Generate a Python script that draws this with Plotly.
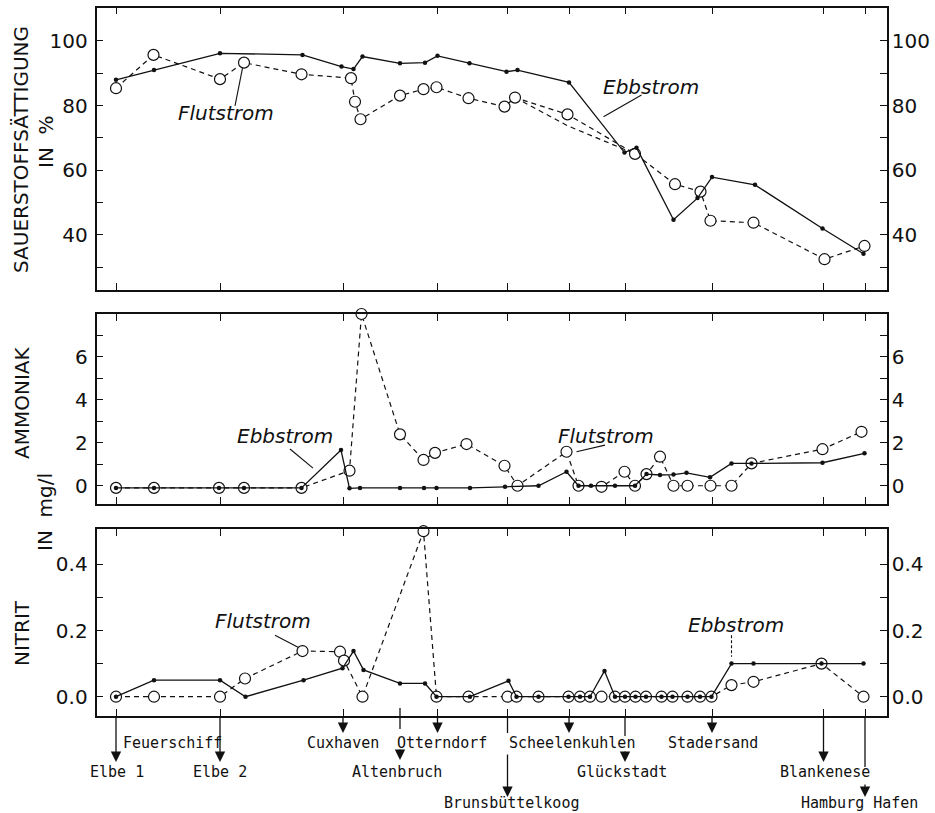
import plotly.graph_objects as go

# ---------------- data ----------------
stations = ["Elbe 1", "Elbe 2", "Cuxhaven", "Altenbruch", "Otterndorf", "Brunsbüttelkoog",
            "Scheelenkuhlen", "Glückstadt", "Stadersand", "Blankenese", "Hamburg Hafen"]
station_km = [0, 20.8, 45.4, 56.8, 64.3, 78.3, 90.6, 101.8, 119.2, 141.5, 149.8]

# Sauerstoffsättigung (%)
o2_ebb_x = [0, 7.6, 20.8, 37.3, 45.1, 47.5, 49.3, 56.8, 61.8, 64.3, 70.7, 78.1, 80.3, 90.6,
            101.7, 104.1, 111.5, 116.3, 119.2, 127.8, 141.3, 149.5]
o2_ebb_y = [88.0, 91.0, 96.2, 95.7, 92.1, 91.3, 95.2, 93.1, 93.3, 95.4, 93.1, 90.5, 91.0, 87.2,
            65.5, 67.0, 44.7, 51.4, 57.9, 55.5, 42.0, 34.2]
o2_flut_x = [0, 7.5, 20.8, 25.6, 37.1, 47.0, 47.8, 48.9, 56.8, 61.5, 64.1, 70.5, 77.7, 79.8,
             90.3, 103.8, 111.8, 116.9, 118.9, 127.5, 141.7, 149.7]
o2_flut_y = [85.4, 95.7, 88.2, 93.3, 89.7, 88.5, 81.2, 75.8, 83.1, 85.1, 85.7, 82.3, 79.7, 82.5,
             77.3, 65.1, 55.7, 53.4, 44.4, 43.8, 32.5, 36.6]
o2_flut2_x = [79.8, 90.3, 103.8]
o2_flut2_y = [82.5, 73.8, 65.1]

# Ammoniak (mg/l)
nh3_ebb_x = [0, 7.6, 20.6, 25.6, 37.1, 45.0, 46.7, 48.8, 56.8, 61.6, 64.1, 70.8, 77.8, 84.5,
             90.1, 92.5, 95.0, 99.8, 103.8, 106.1, 108.8, 111.5, 114.1, 118.8, 123.1, 127.1,
             141.3, 149.7]
nh3_ebb_y = [-0.1, -0.1, -0.1, -0.1, -0.1, 1.66, -0.12, -0.1, -0.1, -0.1, -0.1, -0.1, -0.05, 0.0,
             0.65, 0.0, 0.0, 0.0, 0.0, 0.54, 0.5, 0.52, 0.6, 0.39, 1.04, 1.04, 1.07, 1.51]
nh3_flut_x = [0, 7.6, 20.6, 25.6, 37.1, 46.7, 49.1, 56.8, 61.5, 63.8, 70.1, 77.7, 80.3, 90.1,
              92.5, 97.1, 101.7, 103.8, 106.1, 108.8, 111.5, 114.3, 118.9, 123.1, 127.1, 141.3,
              149.1]
nh3_flut_y = [-0.1, -0.1, -0.1, -0.1, -0.1, 0.70, 7.99, 2.39, 1.2, 1.53, 1.94, 0.93, 0.0, 1.58,
              0.0, -0.05, 0.65, 0.0, 0.54, 1.35, 0.0, 0.0, 0.0, 0.0, 1.04, 1.7, 2.51]

# Nitrit (mg/l)
no2_ebb_x = [0, 7.6, 20.8, 25.9, 37.5, 45.3, 47.5, 49.5, 56.8, 61.8, 64.1, 70.8, 78.5, 80.1,
             84.5, 90.5, 92.8, 94.8, 97.7, 99.8, 101.8, 103.9, 106.0, 109.1, 111.3, 114.3,
             116.8, 119.1, 123.1, 127.5, 141.1, 149.5]
no2_ebb_y = [0, 0.05, 0.05, 0, 0.05, 0.086, 0.138, 0.081, 0.04, 0.04, 0, 0, 0.048, 0,
             0, 0, 0, 0, 0.078, 0, 0, 0, 0, 0, 0, 0,
             0, 0, 0.1, 0.1, 0.1, 0.1]
no2_flut_x = [0, 7.6, 20.8, 25.8, 37.3, 44.8, 45.6, 49.3, 61.5, 64.1, 70.5, 78.3, 80.1, 84.5,
              90.5, 92.8, 94.8, 97.1, 99.8, 101.8, 103.9, 106.0, 109.1, 111.3, 114.3, 116.8,
              119.1, 123.1, 127.5, 141.1, 149.5]
no2_flut_y = [0, 0, 0, 0.055, 0.138, 0.136, 0.109, 0, 0.5, 0, 0, 0, 0, 0,
              0, 0, 0, 0, 0, 0, 0, 0, 0, 0, 0, 0,
              0, 0.035, 0.045, 0.1, 0]

o2_ticks = [40, 60, 80, 100]
o2_minor = [30, 50, 70, 90]
nh3_ticks = [0, 2, 4, 6]
nh3_minor = [-1, 1, 3, 5, 7]
no2_ticks = [0.0, 0.2, 0.4]
no2_ticktext = ["0.0", "0.2", "0.4"]
no2_minor = [0.1, 0.3]

# ---------------- layout helpers ----------------
W, H = 935, 813
XL, XR = 96.5, 886.7          # plot area left/right (px)
KM_PX = 5.0                    # px per km
X0_PX = 116.0                  # px of km 0
xrange = [(XL - X0_PX) / KM_PX, (XR - X0_PX) / KM_PX]
xdom = [XL / W, XR / W]


def ydom(top, bottom):
    return [1 - bottom / H, 1 - top / H]


def py(p):
    return 1 - p / H


panels = [
    dict(top=7.5, bottom=290, range=[22.98, 110.36], ticks=o2_ticks, text=[str(t) for t in o2_ticks], minor=o2_minor),
    dict(top=314, bottom=504, range=[-0.85, 7.99], ticks=nh3_ticks, text=[str(t) for t in nh3_ticks], minor=nh3_minor),
    dict(top=529, bottom=716, range=[-0.0583, 0.5067], ticks=no2_ticks, text=no2_ticktext, minor=no2_minor),
]

tick_km = [k for s, k in zip(stations, station_km) if s != "Altenbruch"]
BLACK = "#111111"
FONT = "DejaVu Sans"

fig = go.Figure()

ebb_line = dict(color=BLACK, width=1.3)
flut_line = dict(color=BLACK, width=1.2, dash="5px,4px")
flut_marker = dict(symbol="circle", size=11, color="white", line=dict(color=BLACK, width=1.2))
ebb_marker = dict(symbol="circle", size=4.5, color=BLACK)


def add_pair(row, ex, ey, fx, fy):
    xa = "x" if row == 1 else f"x{row}"
    ya = "y" if row == 1 else f"y{row}"
    fig.add_trace(go.Scatter(x=fx, y=fy, mode="lines+markers", line=flut_line, marker=flut_marker,
                             xaxis=xa, yaxis=ya, showlegend=False, cliponaxis=False, name="Flutstrom"))
    fig.add_trace(go.Scatter(x=ex, y=ey, mode="lines+markers", line=ebb_line, marker=ebb_marker,
                             xaxis=xa, yaxis=ya, showlegend=False, cliponaxis=False, name="Ebbstrom"))


fig.add_trace(go.Scatter(x=o2_flut2_x, y=o2_flut2_y, mode="lines", line=flut_line,
                         xaxis="x", yaxis="y", showlegend=False, cliponaxis=False))
add_pair(1, o2_ebb_x, o2_ebb_y, o2_flut_x, o2_flut_y)
add_pair(2, nh3_ebb_x, nh3_ebb_y, nh3_flut_x, nh3_flut_y)
add_pair(3, no2_ebb_x, no2_ebb_y, no2_flut_x, no2_flut_y)

layout = dict(width=W, height=H, margin=dict(l=0, r=0, t=0, b=0),
              paper_bgcolor="white", plot_bgcolor="white", showlegend=False,
              font=dict(family=FONT, color=BLACK, size=20))

for i, p in enumerate(panels, start=1):
    sfx = "" if i == 1 else str(i)
    layout[f"xaxis{sfx}"] = dict(domain=xdom, range=xrange, anchor=f"y{sfx}", showgrid=False,
                                 zeroline=False, showline=True, linecolor=BLACK, linewidth=1.7,
                                 mirror="ticks", ticks="inside", ticklen=7, tickwidth=1.3,
                                 tickcolor=BLACK, tickvals=tick_km, showticklabels=False)
    common = dict(domain=ydom(p["top"], p["bottom"]), range=p["range"], showgrid=False, zeroline=False,
                  tickvals=p["ticks"], ticktext=p["text"], ticklen=7, tickwidth=1.3, tickcolor=BLACK,
                  tickfont=dict(family=FONT, size=20, color=BLACK),
                  minor=dict(tickvals=p["minor"], ticks="inside", ticklen=7, tickwidth=1.2, tickcolor=BLACK))
    layout[f"yaxis{sfx}"] = dict(common, anchor=f"x{sfx}", side="left", ticks="inside",
                                 showline=True, linecolor=BLACK, linewidth=1.7, mirror=True,
                                 ticklabelstandoff=3)
    r = i + 3
    layout[f"yaxis{r}"] = dict(common, anchor=f"x{sfx}", overlaying=f"y{sfx}", side="right",
                               ticks="inside", showline=False, ticklabelstandoff=4)
    fig.add_trace(go.Scatter(x=[station_km[0]], y=[None], xaxis=f"x{sfx}", yaxis=f"y{r}",
                             showlegend=False, hoverinfo="skip", mode="markers"))

fig.update_layout(**layout)

ann = []
shapes = []

# y-axis titles
for text, x, y in [("SAUERSTOFFSÄTTIGUNG", 21, 150), ("IN  %", 46, 142), ("AMMONIAK", 22, 403),
                   ("IN  mg/l", 45, 512), ("NITRIT", 22, 633)]:
    ann.append(dict(text=text, x=x / W, y=py(y), xref="paper", yref="paper", showarrow=False,
                    textangle=-90, font=dict(family=FONT, size=20, color=BLACK),
                    xanchor="center", yanchor="middle"))

# curve labels with leader lines (data coordinates)
curve_labels = [
    ("Flutstrom", 1, 22.0, 77.7, [(23.8, 79.9), (25.3, 91.6)], "solid"),
    ("Ebbstrom", 1, 107.0, 85.8, [(97.5, 76.6), (105.1, 83.3)], "solid"),
    ("Ebbstrom", 2, 33.8, 2.31, [(34.8, 1.71), (39.4, 0.82)], "solid"),
    ("Flutstrom", 2, 98.0, 2.31, [(92.1, 1.58), (97.8, 1.89)], "solid"),
    ("Flutstrom", 3, 29.4, 0.229, [(31.8, 0.186), (36.5, 0.149)], "solid"),
    ("Ebbstrom", 3, 124.0, 0.217, [(123.1, 0.186), (123.1, 0.121)], "dash"),
]
for text, row, x, y, seg, dash in curve_labels:
    sfx = "" if row == 1 else str(row)
    ann.append(dict(text=f"<i>{text}</i>", x=x, y=y, xref=f"x{sfx}", yref=f"y{sfx}", showarrow=False,
                    font=dict(family=FONT, size=20, color=BLACK), xanchor="center", yanchor="middle"))
    shapes.append(dict(type="line", xref=f"x{sfx}", yref=f"y{sfx}", x0=seg[0][0], y0=seg[0][1],
                       x1=seg[1][0], y1=seg[1][1],
                       line=dict(color=BLACK, width=1.1, dash="3px,2px" if dash == "dash" else "solid")))

# station labels below the lowest panel (positions in px)
label_specs = {
    "Elbe 1": dict(text_y=772, shift=1, segs=[(716, 762, True)]),
    "Elbe 2": dict(text_y=772, shift=0, segs=[(716, 762, True)]),
    "Cuxhaven": dict(text_y=743, shift=0, segs=[(716, 733, True)]),
    "Altenbruch": dict(text_y=772, shift=-3, segs=[(708, 729, False), (748, 760, True)]),
    "Otterndorf": dict(text_y=743, shift=4, segs=[(716, 733, True)]),
    "Brunsbüttelkoog": dict(text_y=803, shift=4, segs=[(716, 733, False), (753, 797, True)]),
    "Scheelenkuhlen": dict(text_y=743, shift=3, segs=[(716, 733, True)]),
    "Glückstadt": dict(text_y=772, shift=-3, segs=[(716, 736, False), (750, 762, True)]),
    "Stadersand": dict(text_y=743, shift=1, segs=[(716, 733, True)]),
    "Blankenese": dict(text_y=772, shift=1, segs=[(716, 762, True)]),
    "Hamburg Hafen": dict(text_y=803, shift=-6, segs=[(716, 767, False), (783, 797, True)]),
}
LFONT = dict(family="DejaVu Sans Mono", size=15, color=BLACK)
for name, km in zip(stations, station_km):
    spec = label_specs[name]
    ann.append(dict(text=name, x=km, y=py(spec["text_y"]), xref="x3", yref="paper", showarrow=False,
                    xshift=spec["shift"], font=LFONT, xanchor="center", yanchor="middle"))
    for y0, y1, head in spec["segs"]:
        if head:
            ann.append(dict(text="", x=km, y=py(y1), xref="x3", yref="paper", showarrow=True,
                            ax=0, ay=-(y1 - y0), arrowhead=2, arrowsize=1.6, arrowwidth=1.3,
                            arrowcolor=BLACK, standoff=0, startstandoff=0))
        else:
            shapes.append(dict(type="line", xref="x3", yref="paper", x0=km, x1=km, y0=py(y0), y1=py(y1),
                               line=dict(color=BLACK, width=1.3)))
ann.append(dict(text="Feuerschiff", x=station_km[0], y=py(743), xref="x3", yref="paper", showarrow=False,
                xshift=5, font=LFONT, xanchor="left", yanchor="middle"))

fig.update_layout(annotations=ann, shapes=shapes)
fig.write_html("out.html")
